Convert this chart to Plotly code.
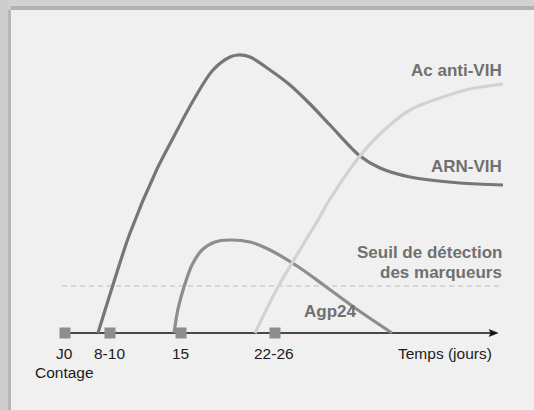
import plotly.graph_objects as go

# Schematic scale: x = time position (J0 at 0), y = marker level (time axis at 0)
arn_x = [33, 47, 65, 92, 107, 128, 148, 165, 173, 185, 205, 225, 245, 265, 295, 315, 345, 395, 438]
arn_y = [0, 45, 100, 164, 193, 232, 263, 276, 278, 276, 263, 248, 229, 208, 177, 165, 156, 150, 148]

agp_x = [109, 113, 119, 127, 137, 150, 165, 185, 205, 235, 260, 290, 327]
agp_y = [0, 24, 46, 68, 83, 91, 93, 91, 83, 65, 47, 25, 0]

ac_x = [190, 213, 253, 265, 295, 315, 345, 375, 405, 438]
ac_y = [0, 46, 113, 134, 177, 199, 223, 235, 244, 249]

tick_pos = [0, 45, 116, 210]
tick_labels = ["J0", "8-10", "15", "22-26"]
threshold = 47

fig = go.Figure()

line_shape = dict(width=3.2, shape="spline", smoothing=0.9)
fig.add_trace(go.Scatter(x=arn_x, y=arn_y, mode="lines", line=dict(color="#767676", **line_shape), hoverinfo="skip"))
fig.add_trace(go.Scatter(x=agp_x, y=agp_y, mode="lines", line=dict(color="#8d8d8d", **line_shape), hoverinfo="skip"))
fig.add_trace(go.Scatter(x=ac_x, y=ac_y, mode="lines", line=dict(color="#d2d2d2", **line_shape), hoverinfo="skip"))
fig.add_trace(go.Scatter(x=tick_pos, y=[0]*len(tick_pos), mode="markers",
                         marker=dict(symbol="square", size=11, color="#8e8e8e", line=dict(width=0)), hoverinfo="skip"))

shapes = []
# background frame strips
shapes.append(dict(type="rect", xref="x", yref="y", x0=-65, x1=-57, y0=-77, y1=333, fillcolor="#cdcdcd", line=dict(width=0), layer="below"))
shapes.append(dict(type="rect", xref="x", yref="y", x0=-57, x1=-54, y0=-77, y1=323, fillcolor="#b6b6b6", line=dict(width=0), layer="below"))
shapes.append(dict(type="rect", xref="x", yref="y", x0=-57, x1=469, y0=327, y1=333, fillcolor="#d2d2d2", line=dict(width=0), layer="below"))
shapes.append(dict(type="rect", xref="x", yref="y", x0=-54, x1=469, y0=323, y1=327, fillcolor="#b2b2b2", line=dict(width=0), layer="below"))
shapes.append(dict(type="rect", xref="x", yref="y", x0=-57, x1=-54, y0=323, y1=327, fillcolor="#cdcdcd", line=dict(width=0), layer="below"))
# threshold dashed line
shapes.append(dict(type="line", xref="x", yref="y", x0=-3, x1=438, y0=threshold, y1=threshold,
                   line=dict(color="#bcbcbc", width=1, dash="5px,4px"), layer="below"))
# time axis
shapes.append(dict(type="line", xref="x", yref="y", x0=-3, x1=428, y0=0, y1=0,
                   line=dict(color="#111111", width=1.3), layer="below"))
shapes.append(dict(type="path", xref="x", yref="y", path="M 424 3.5 L 433 0 L 424 -3.5 L 426 0 Z",
                   fillcolor="#111111", line=dict(color="#111111", width=0.5), layer="below"))

annotations = []
font_t = dict(family="Liberation Sans, Arial, sans-serif", size=15.5, color="#1c1c1c")
for p, lab in zip(tick_pos, tick_labels):
    annotations.append(dict(x=p - 1, y=-20, text=lab, showarrow=False, font=font_t, xanchor="center", yanchor="middle"))
annotations.append(dict(x=-1, y=-39, text="Contage", showarrow=False, font=font_t, xanchor="center", yanchor="middle"))
annotations.append(dict(x=429, y=-20, text="Temps (jours)", showarrow=False, font=font_t, xanchor="right", yanchor="middle"))

font_b = dict(family="Liberation Sans, Arial, sans-serif", size=17, color="#707070")
annotations.append(dict(x=439, y=263, text="<b>Ac anti-VIH</b>", showarrow=False, font=font_b, xanchor="right", yanchor="middle"))
annotations.append(dict(x=439, y=167, text="<b>ARN-VIH</b>", showarrow=False, font=font_b, xanchor="right", yanchor="middle"))
annotations.append(dict(x=439, y=81, text="<b>Seuil de détection</b>", showarrow=False, font=font_b, xanchor="right", yanchor="middle"))
annotations.append(dict(x=439, y=61, text="<b>des marqueurs</b>", showarrow=False, font=font_b, xanchor="right", yanchor="middle"))
annotations.append(dict(x=237, y=22, text="<b>Agp24</b>", showarrow=False, font=font_b, xanchor="left", yanchor="middle"))

fig.update_layout(
    width=534, height=410,
    margin=dict(l=0, r=0, t=0, b=0),
    paper_bgcolor="#f0f0f0", plot_bgcolor="#f0f0f0",
    showlegend=False,
    xaxis=dict(range=[-65, 469], visible=False, fixedrange=True),
    yaxis=dict(range=[-77, 333], visible=False, fixedrange=True),
    shapes=shapes, annotations=annotations,
)

fig.write_html("out.html", config={"displayModeBar": False},
               post_script="document.body.style.margin='0';document.body.style.overflow='hidden';")
